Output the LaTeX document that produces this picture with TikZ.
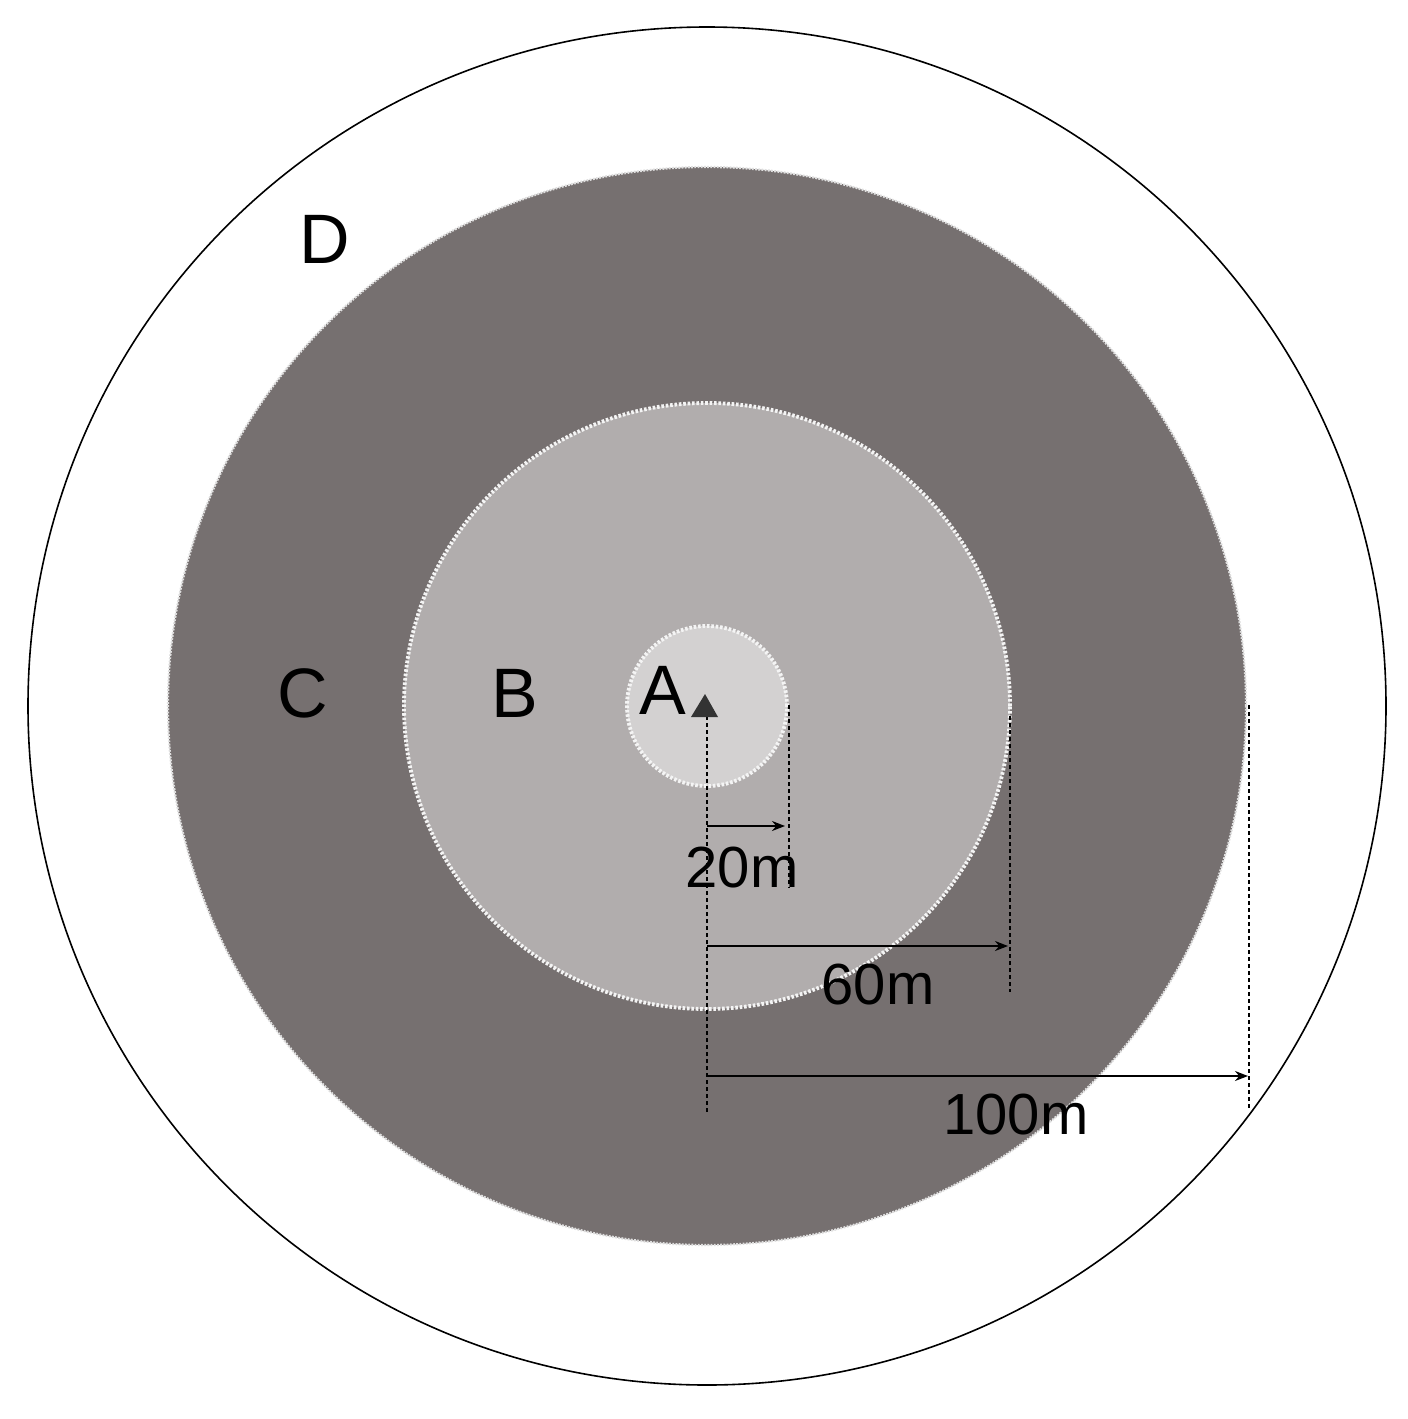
\documentclass[tikz,border=0pt]{standalone}
\usepackage{fontspec}
\setmainfont{Liberation Sans}
\usetikzlibrary{arrows.meta}
\definecolor{zoneC}{HTML}{767070}
\definecolor{zoneB}{HTML}{B1ADAD}
\definecolor{zoneA}{HTML}{D3D1D1}
\definecolor{dotcol}{HTML}{F4F4F4}
\definecolor{marker}{HTML}{333333}
\tikzset{
  zone/.style={draw=dotcol, line width=1.9pt, dash pattern=on 1.3pt off 0.9pt},
  letterlbl/.style={inner sep=0pt, font=\fontsize{35}{42}\selectfont},
  numlbl/.style={inner sep=0pt, font=\fontsize{29}{35}\selectfont},
  guide/.style={draw=black, line width=0.9pt, dash pattern=on 2.2pt off 1.3pt},
  dimarrow/.style={draw=black, line width=0.9pt, -{Stealth[length=6.5pt,width=5pt]}}
}
\begin{document}
\begin{tikzpicture}[x=0.5pt,y=-0.5pt]
\useasboundingbox (0,0) rectangle (1408,1419);
\fill[white] (0,0) rectangle (1408,1419);
\coordinate (O) at (707,706);
% outer circle D
\draw[black, line width=0.8pt] (O) circle[radius=339.5pt];
% zone C
\fill[zoneC] (O) circle[radius=269.5pt];
\draw[draw=gray!25, line width=1.1pt, dash pattern=on 0.9pt off 0.7pt] (O) circle[radius=269.5pt];
% zone B
\fill[zoneB] (O) circle[radius=151.5pt];
\draw[zone] (O) circle[radius=151.5pt];
% zone A
\fill[zoneA] (O) circle[radius=40pt];
\draw[zone] (O) circle[radius=40pt];
% coordinates
\coordinate (c0top) at (707,716);
\coordinate (c0bot) at (707,1112);
\coordinate (c20top) at (789,705);
\coordinate (c20bot) at (789,888);
\coordinate (c60top) at (1010,716);
\coordinate (c60bot) at (1010,992);
\coordinate (c100top) at (1249,705);
\coordinate (c100bot) at (1249,1108);
\coordinate (a20s) at (707,826);
\coordinate (a20e) at (785,826);
\coordinate (a60s) at (707,946);
\coordinate (a60e) at (1008,946);
\coordinate (a100s) at (707,1076);
\coordinate (a100e) at (1248,1076);
% guides
\draw[guide] (c0top) -- (c0bot);
\draw[guide] (c20top) -- (c20bot);
\draw[guide] (c60top) -- (c60bot);
\draw[guide] (c100top) -- (c100bot);
% arrows
\draw[dimarrow] (a20s) -- (a20e);
\draw[dimarrow] (a60s) -- (a60e);
\draw[dimarrow] (a100s) -- (a100e);
% marker
\fill[marker] (705,694) -- (718,717) -- (691,717) -- cycle;
% labels
\node[letterlbl] (lA) at (663,690) {A};
\node[letterlbl] (lB) at (515,693) {B};
\node[letterlbl] (lC) at (303,693) {C};
\node[letterlbl] (lD) at (325,239) {D};
\node[numlbl] (n20) at (742,868) {20m};
\node[numlbl] (n60) at (878,985) {60m};
\node[numlbl] (n100) at (1016,1115) {100m};
\end{tikzpicture}
\end{document}
